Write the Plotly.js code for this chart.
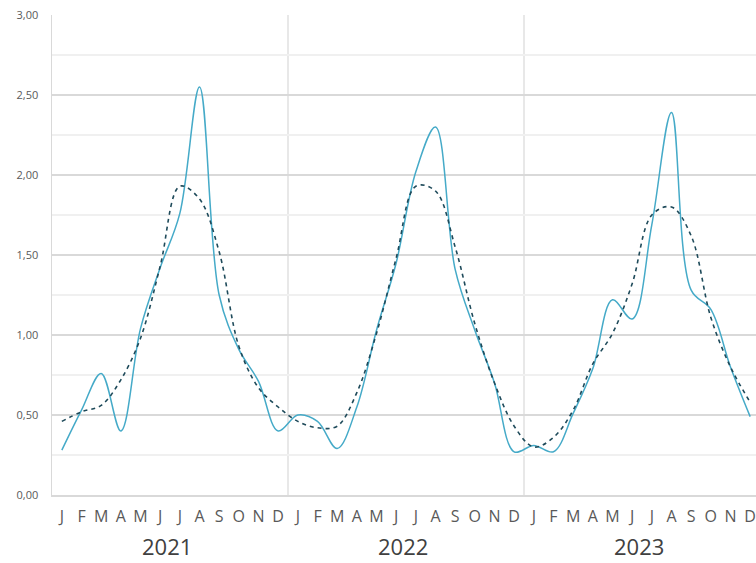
<!DOCTYPE html>
<html>
<head>
<meta charset="utf-8">
<script src="https://cdn.plot.ly/plotly-3.0.1.min.js"></script>
<style>html,body{margin:0;padding:0;background:#fff;}#chart{width:756px;height:563px;}</style>
</head>
<body>
<div id="chart"></div>
<script>
const years = ["2021", "2022", "2023"];
const monthLetters = ["J","F","M","A","M","J","J","A","S","O","N","D"];

const actual2021 = [0.28, 0.53, 0.76, 0.40, 1.04, 1.42, 1.76, 2.55, 1.25, 0.91, 0.71, 0.40];
const actual2022 = [0.50, 0.46, 0.29, 0.55, 1.03, 1.45, 2.02, 2.30, 1.41, 1.03, 0.70, 0.27];
const actual2023 = [0.31, 0.27, 0.51, 0.79, 1.22, 1.10, 1.69, 2.39, 1.28, 1.16, 0.80, 0.49];

const trend2021 = [0.46, 0.52, 0.56, 0.72, 0.98, 1.43, 1.93, 1.85, 1.52, 0.93, 0.67, 0.55];
const trend2022 = [0.46, 0.42, 0.43, 0.64, 1.01, 1.48, 1.93, 1.90, 1.55, 1.07, 0.70, 0.43];
const trend2023 = [0.30, 0.36, 0.53, 0.82, 1.01, 1.32, 1.75, 1.80, 1.62, 1.11, 0.80, 0.58];

const actual = [].concat(actual2021, actual2022, actual2023);
const trend = [].concat(trend2021, trend2022, trend2023);
const tickText = [].concat(...years.map(() => monthLetters));
const xIdx = tickText.map((_, i) => i);

const traces = [
  {x: xIdx, y: actual, type: "scatter", mode: "lines",
   line: {color: "#45AAC8", width: 1.5, shape: "spline", smoothing: 1},
   hoverinfo: "skip", showlegend: false},
  {x: xIdx, y: trend, type: "scatter", mode: "lines",
   line: {color: "#1E4A5A", width: 1.6, dash: "4px,4px", shape: "spline", smoothing: 1},
   hoverinfo: "skip", showlegend: false}
];

const shapes = [];
for (let k = 1; k < years.length; k++) {
  shapes.push({type: "line", xref: "x", yref: "y", x0: k*12 - 0.5, x1: k*12 - 0.5, y0: 0, y1: 3,
    line: {color: "#D9D9D9", width: 1.2}, layer: "below"});
}
const annotations = years.map((yr, k) => ({
  text: yr, xref: "x", yref: "paper", x: k*12 + 5.5, y: 0, yshift: -67, xshift: -3,
  showarrow: false, yanchor: "bottom", borderpad: 0,
  font: {family: "Open Sans, Lato, sans-serif", size: 22, color: "#404040"}
}));

const layout = {
  width: 756, height: 563,
  margin: {l: 52, r: 0, t: 15, b: 68},
  paper_bgcolor: "#fff", plot_bgcolor: "#fff",
  separators: ",.",
  showlegend: false,
  xaxis: {
    range: [-0.5, 35.297], tickmode: "array", tickvals: xIdx, ticktext: tickText,
    showgrid: false, zeroline: false, showline: true, linecolor: "#D9D9D9", linewidth: 1.5,
    ticks: "", ticklabelstandoff: 6,
    tickfont: {family: "Open Sans, Lato, sans-serif", size: 16, color: "#595959"}
  },
  yaxis: {
    range: [0, 3], dtick: 0.5, tickformat: ".2f",
    showgrid: true, gridcolor: "#D9D9D9", gridwidth: 1.3,
    minor: {dtick: 0.25, showgrid: true, gridcolor: "#F0F0F0", gridwidth: 1.2},
    zeroline: false, showline: true, linecolor: "#D9D9D9", linewidth: 1.5,
    ticks: "", ticklabelstandoff: 10,
    tickfont: {family: "Open Sans, Lato, sans-serif", size: 11, color: "#595959"}
  },
  shapes: shapes,
  annotations: annotations
};

Plotly.newPlot("chart", traces, layout, {displayModeBar: false, staticPlot: true});
</script>
</body>
</html>
